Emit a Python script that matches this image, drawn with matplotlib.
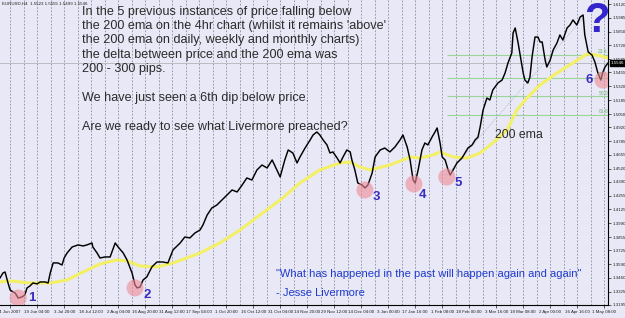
import matplotlib
matplotlib.use("Agg")
import matplotlib.pyplot as plt
import numpy as np

plt.rcParams['font.family'] = ['Liberation Sans', 'DejaVu Sans']

# ---------------- data ----------------
# H4 bar index (from left edge of chart) and close price, EURUSD Jun 2007 - May 2008
price_bar = [0, 7, 12, 19, 24, 31, 36, 43, 52, 59, 64, 71, 78, 88, 95, 107, 114, 119, 126, 137,
             147, 152, 159, 171, 185, 197, 206, 218, 220, 230, 237, 249, 261, 273, 280, 292, 301, 313, 320, 325,
             332, 339, 348, 360, 372, 386, 398, 410, 427, 438, 450, 462, 474, 481, 491, 502, 514, 526, 538, 550,
             562, 574, 585, 597, 609, 621, 633, 645, 654, 664, 675, 683, 694, 704, 711, 723, 735, 742, 751, 758,
             766, 775, 782, 789, 799, 806, 813, 822, 830, 834, 841, 848, 858, 865, 872, 882, 889, 901, 912, 924,
             936, 948, 955, 965, 972, 979, 984, 991, 1000, 1007, 1014, 1024, 1031, 1036, 1043, 1048, 1055, 1062, 1067, 1074,
             1083, 1095, 1102, 1109, 1119, 1126, 1133, 1138, 1145, 1154, 1161, 1168, 1180, 1190, 1197, 1204, 1213, 1216, 1221, 1228,
             1232, 1240, 1244, 1251, 1256, 1261, 1268, 1275, 1280, 1285, 1292, 1296, 1304, 1311, 1320, 1327, 1334, 1344, 1351, 1358,
             1367, 1375, 1382, 1386, 1394, 1403, 1410, 1417, 1424, 1429, 1434, 1441]
price_close = [1.3457, 1.3505, 1.3515, 1.3408, 1.3340, 1.3321, 1.3311, 1.3262, 1.3272, 1.3292, 1.3360, 1.3379, 1.3408, 1.3399, 1.3418, 1.3418, 1.3408, 1.3505, 1.3603, 1.3603,
               1.3583, 1.3651, 1.3700, 1.3758, 1.3778, 1.3768, 1.3778, 1.3797, 1.3758, 1.3700, 1.3651, 1.3661, 1.3661, 1.3797, 1.3758, 1.3700, 1.3632, 1.3505, 1.3389, 1.3360,
               1.3369, 1.3437, 1.3467, 1.3564, 1.3612, 1.3612, 1.3603, 1.3729, 1.3797, 1.3855, 1.3846, 1.3894, 1.3923, 1.3972, 1.4069, 1.4137, 1.4166, 1.4215, 1.4264, 1.4312,
               1.4293, 1.4361, 1.4429, 1.4409, 1.4507, 1.4555, 1.4526, 1.4604, 1.4526, 1.4439, 1.4604, 1.4701, 1.4672, 1.4575, 1.4633, 1.4720, 1.4798, 1.4847, 1.4876, 1.4847,
               1.4798, 1.4750, 1.4672, 1.4682, 1.4623, 1.4575, 1.4633, 1.4701, 1.4682, 1.4604, 1.4507, 1.4380, 1.4361, 1.4332, 1.4361, 1.4477, 1.4633, 1.4701, 1.4720, 1.4682,
               1.4730, 1.4798, 1.4847, 1.4730, 1.4604, 1.4409, 1.4380, 1.4507, 1.4701, 1.4769, 1.4750, 1.4827, 1.4876, 1.4915, 1.4769, 1.4633, 1.4604, 1.4507, 1.4458, 1.4507,
               1.4575, 1.4623, 1.4672, 1.4720, 1.4750, 1.4798, 1.4827, 1.4925, 1.5090, 1.5206, 1.5187, 1.5284, 1.5352, 1.5381, 1.5449, 1.5547, 1.5644, 1.5838, 1.5887, 1.5741,
               1.5644, 1.5449, 1.5381, 1.5352, 1.5411, 1.5605, 1.5799, 1.5799, 1.5751, 1.5751, 1.5576, 1.5508, 1.5576, 1.5673, 1.5741, 1.5819, 1.5770, 1.5887, 1.5916, 1.5965,
               1.5916, 1.5994, 1.6013, 1.5819, 1.5654, 1.5624, 1.5556, 1.5449, 1.5381, 1.5459, 1.5508, 1.5546]

ema_bar = [0, 24, 71, 119, 159, 197, 237, 277, 301, 332, 372, 410, 443, 474, 521, 569, 616, 664, 711, 758,
           806, 830, 853, 877, 924, 972, 995, 1026, 1043, 1074, 1107, 1138, 1168, 1202, 1225, 1249, 1280, 1320, 1358, 1391,
           1415, 1441]
ema_value = [1.3418, 1.3428, 1.3408, 1.3408, 1.3437, 1.3515, 1.3593, 1.3632, 1.3622, 1.3573, 1.3564, 1.3603, 1.3651, 1.3700, 1.3797, 1.3923, 1.4069, 1.4215, 1.4380, 1.4507,
             1.4575, 1.4584, 1.4536, 1.4507, 1.4555, 1.4633, 1.4623, 1.4652, 1.4682, 1.4633, 1.4623, 1.4672, 1.4769, 1.4895, 1.5090, 1.5206, 1.5333, 1.5449, 1.5547, 1.5634,
             1.5624, 1.5595]

dip_bar = [43, 320, 865, 981, 1059, 1429]
dip_price = [1.3262, 1.3360, 1.4312, 1.4370, 1.4438, 1.5381]
dip_labels = ["1", "2", "3", "4", "5", "6"]

fib_low_bar, fib_low = 1059, 1.4458
fib_high_bar, fib_high = 1382, 1.5984
fib_ratios = [0.236, 0.382, 0.500, 0.618]
fib_names = ["23.6", "38.2", "50.0", "61.8"]

bid_price = 1.5546

y_ticks = [1.6120, 1.5985, 1.5850, 1.5720, 1.5585, 1.5455, 1.5320, 1.5185, 1.5050, 1.4920, 1.4785,
           1.4655, 1.4520, 1.4390, 1.4255, 1.4125, 1.3990, 1.3855, 1.3725, 1.3590, 1.3460, 1.3325, 1.3195]
x_tick_bars = [24 + 64 * i for i in range(23)]
x_tick_labels = ["4 Jun 2007", "19 Jun 04:00", "3 Jul 20:00", "18 Jul 12:00", "2 Aug 04:00", "16 Aug 20:00",
                 "31 Aug 12:00", "17 Sep 04:00", "1 Oct 20:00", "16 Oct 12:00", "31 Oct 04:00", "14 Nov 20:00",
                 "29 Nov 12:00", "14 Dec 04:00", "3 Jan 00:00", "17 Jan 16:00", "1 Feb 08:00", "18 Feb 00:00",
                 "3 Mar 16:00", "18 Mar 08:00", "2 Apr 00:00", "16 Apr 16:00", "1 May 08:00"]

# ---------------- figure ----------------
BG = '#e8e8f6'
W, H = 625, 318
fig = plt.figure(figsize=(W / 100, H / 100), dpi=100, facecolor=BG)
ax = fig.add_axes([0, 13 / H, 608 / W, 305 / H], facecolor=BG)
ax.set_xlim(0, 1441)
ax.set_ylim(1.3194, 1.6159)

# vertical dashed grid
for b in range(24 - 32, 1441, 32):
    if b > 0:
        ax.axvline(b, color='#8a8aa0', lw=0.6, ls=(0, (2, 2)), zorder=0)

# fibonacci retracement
span = fib_high - fib_low
for r, n in zip(fib_ratios, fib_names):
    lvl = fib_high - r * span
    ax.hlines(lvl, fib_low_bar, 1441, color='#9ad69a', lw=0.8, zorder=1)
    ax.text(1418, lvl + 0.0008, n, fontsize=3.5, color='#6ab86a', va='bottom', ha='left', zorder=1)
ax.plot([fib_low_bar, fib_high_bar], [fib_low, fib_high], color='#9ab8b8', lw=0.6, ls=(0, (1, 1.5)), zorder=1)

# bid line
ax.axhline(bid_price, color='#b4b4bc', lw=0.6, zorder=1)

# EMA and price
ax.plot(ema_bar, ema_value, color='#f4f066', lw=2.2, solid_capstyle='round', zorder=2)
ax.plot(price_bar, price_close, color='black', lw=1.05, zorder=3)

# dips
ax.scatter(dip_bar, dip_price, s=150, color='#f08a96', alpha=0.6, edgecolors='none', zorder=4)
offsets = [(14, 0), (12, -7), (11, -7), (9, -11), (11, -6), (-14, 0)]
for b, p, lab, off in zip(dip_bar, dip_price, dip_labels, offsets):
    ax.annotate(lab, (b, p), xytext=off, textcoords='offset pixels', fontsize=9.5, fontweight='bold',
                color='#3a2cc0', ha='center', va='center', zorder=5)

# texts
def T(xp, yp, s, **kw):
    ax.text(xp / 608, 1 - yp / 305, s, transform=ax.transAxes, **kw)

top_lines = ["In the 5 previous instances of price falling below",
             "the 200 ema on the 4hr chart (whilst it remains 'above'",
             "the 200 ema on daily, weekly and monthly charts)",
             "the delta between price and the 200 ema was",
             "200 - 300 pips."]
for i, s in enumerate(top_lines):
    T(82, 15 + 14.2 * i, s, fontsize=9.1, color='#2c2c2c', va='baseline', ha='left', zorder=6)
T(82, 101, "We have just seen a 6th dip below price.", fontsize=9.1, color='#2c2c2c', va='baseline', zorder=6)
T(82, 130, "Are we ready to see what Livermore preached?", fontsize=9.1, color='#2c2c2c', va='baseline', zorder=6)
T(495, 138, "200 ema", fontsize=8.8, color='#2c2c2c', va='baseline', zorder=6)
T(276, 277, "\"What has happened in the past will happen again and again\"", fontsize=8.0,
  color='#1f3ad0', va='baseline', zorder=6)
T(276, 296, "- Jesse Livermore", fontsize=8.0, color='#1f3ad0', va='baseline', zorder=6)
T(597, 21, "?", fontsize=30, fontweight='bold', color='#3326cc', ha='center', va='center', zorder=6)
T(2, 3.5, "EURUSD,H4  1.5523 1.5555 1.5499 1.5546", fontsize=3.2, color='#202020', va='center', zorder=6)

# axes styling
for s in ['left', 'top']:
    ax.spines[s].set_visible(False)
for s in ['right', 'bottom']:
    ax.spines[s].set_color('black')
    ax.spines[s].set_linewidth(0.8)
ax.yaxis.tick_right()
ax.set_yticks(y_ticks)
ax.set_yticklabels([f"{v:.4f}" for v in y_ticks])
ax.tick_params(axis='y', labelsize=3.2, length=2, width=0.5, pad=1.5, colors='#202020')
ax.set_xticks(x_tick_bars)
ax.set_xticklabels(x_tick_labels)
ax.tick_params(axis='x', labelsize=3.2, length=2, width=0.5, pad=1.5, colors='#202020')

# current price label
ax.annotate(f"{bid_price:.4f}", (1, bid_price), xycoords=('axes fraction', 'data'), xytext=(2, 0),
            textcoords='offset points', fontsize=3.2, color='white', va='center', ha='left',
            bbox=dict(boxstyle='square,pad=0.2', fc='black', ec='black'), annotation_clip=False, zorder=7)

fig.savefig('out.png', dpi=100, facecolor=BG)
